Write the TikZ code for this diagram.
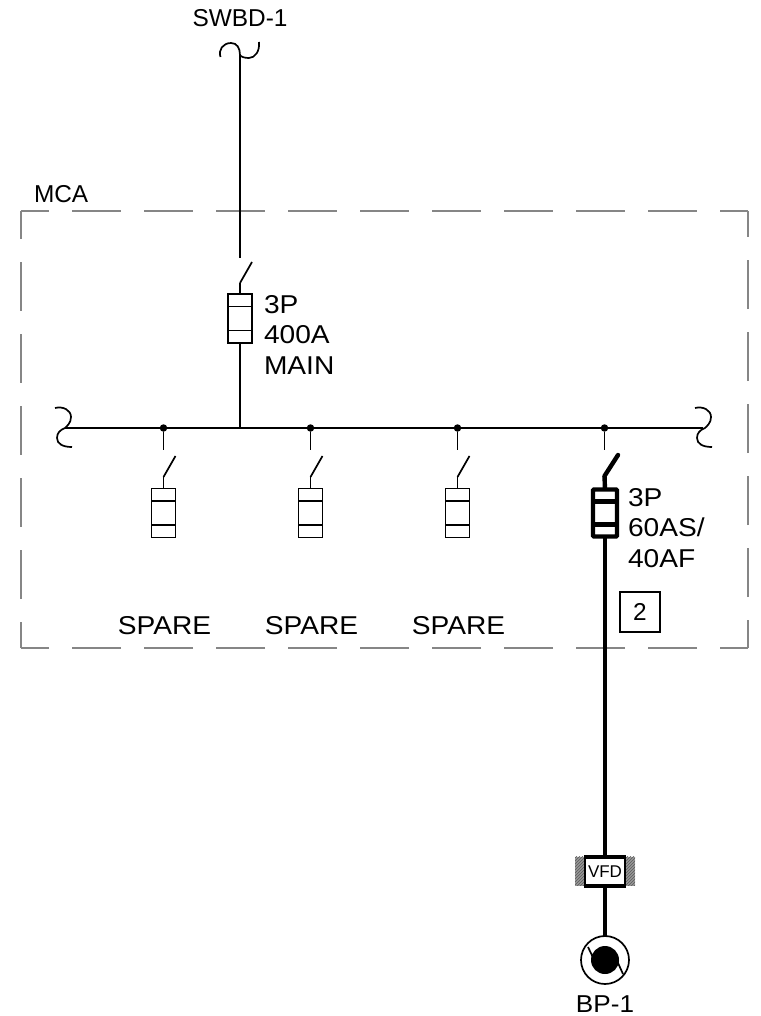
\documentclass[tikz,border=0pt]{standalone}
\usepackage{fontspec}
\setmainfont{Liberation Sans}
\usetikzlibrary{patterns}
\tikzstyle{edge}=[line width=1.7pt]
\tikzstyle{feeder}=[line width=4.4pt]
\tikzstyle{fuse}=[draw=black, shape=rectangle, line width=1.7pt, minimum width=24pt, minimum height=49pt, inner sep=0pt, outer sep=0pt]
\tikzstyle{fusebold}=[draw=black, shape=rectangle, line width=4.4pt, rounded corners=1pt, minimum width=24pt, minimum height=47pt, inner sep=0pt, outer sep=0pt]
\tikzstyle{tap}=[fill=black, shape=circle, inner sep=0pt, outer sep=0pt, minimum width=7.5pt]
\tikzstyle{mcaline}=[draw=gray!95, line width=2pt, dash pattern=on 49pt off 23pt, dash phase=21pt]
\tikzstyle{hatch}=[shape=rectangle, preaction={fill=gray!80}, pattern=north east lines, pattern color=gray!70!black, minimum width=10pt, minimum height=29pt, inner sep=0pt, outer sep=0pt]
\tikzstyle{label}=[inner sep=0pt, outer sep=0pt, font=\fontsize{24.4}{30.3}\selectfont, align=left]
\tikzstyle{wide}=[inner sep=0pt, outer sep=0pt, font=\fontsize{25.8}{30.3}\selectfont, align=left, xscale=1.09, transform shape]

\begin{document}
\begin{tikzpicture}[x=1pt, y=-1pt]
            \useasboundingbox (0,0) rectangle (760,1016);
            % enclosure
            \coordinate (tl) at (21,211);
            \coordinate (tr) at (748,211);
            \coordinate (bl) at (21,648);
            \coordinate (br) at (748,648);
            \draw[mcaline] (tl) -- (tr);
            \draw[mcaline] (tl) -- (bl);
            \draw[mcaline] (br) -- (bl);
            \draw[mcaline] (br) -- (tr);
            \node[label, anchor=west] (mca) at (34,194) {MCA};
            % incoming feed
            \node[label] (swbd) at (240,18) {SWBD-1};
            \coordinate (feed) at (240,55);
            \coordinate (mainopen) at (240,258);
            \coordinate (mainblade) at (252,262);
            \coordinate (mainhinge) at (240,283);
            \draw[edge] (220.5,57) .. controls (218,50) and (223,43) .. (231,43) .. controls (237,43) and (240,48) .. (feed) .. controls (241,57) and (245,58) .. (249,58) .. controls (255,58) and (260,51) .. (259,42);
            \draw[edge] (feed) -- (mainopen);
            \draw[edge] (mainblade) -- (mainhinge);
            \node[fuse] (main) at (240,318.5) {};
            \draw[edge] (mainhinge) -- (main.north);
            \node[wide, anchor=north west] (mainlabel) at (264,295.5) {3P\\400A\\MAIN};
            % bus
            \coordinate (busl) at (65,428);
            \coordinate (busr) at (703,428);
            \coordinate (busin) at (240,428);
            \draw[edge] (busl) -- (busr);
            \draw[edge] (main.south) -- (busin);
            \draw[edge] (55,408) .. controls (63,406) and (71,410) .. (71,417) .. controls (71,423) and (67,426) .. (busl) .. controls (60,430) and (57,433) .. (57,438) .. controls (57,444) and (63,447) .. (72,447);
            \draw[edge,shift={(640,0)}] (55,408) .. controls (63,406) and (71,410) .. (71,417) .. controls (71,423) and (67,426) .. (65,428) .. controls (60,430) and (57,433) .. (57,438) .. controls (57,444) and (63,447) .. (72,447);
            % spare breakers
            \foreach \n/\x in {1/163.5,2/310.5,3/457.5}{
                \node[tap] (tap\n) at (\x,428) {};
                \coordinate (open\n) at (\x,450);
                \coordinate (blade\n) at (\x+12,456);
                \coordinate (hinge\n) at (\x,477);
                \node[fuse] (spare\n) at (\x,513) {};
                \node[wide] (sparelabel\n) at (\x+1,626) {SPARE};
                \draw[edge] (tap\n) -- (open\n);
                \draw[edge] (blade\n) -- (hinge\n);
                \draw[edge] (hinge\n) -- (spare\n.north);
            }
            % fuse bars
            \foreach \f in {main,spare1,spare2,spare3}{
                \draw[edge] ([yshift=-12.5pt]\f.north west) -- ([yshift=-12.5pt]\f.north east);
                \draw[edge] ([yshift=12.5pt]\f.south west) -- ([yshift=12.5pt]\f.south east);
            }
            % pump branch
            \node[tap] (tap4) at (604.5,428) {};
            \coordinate (open4) at (604.5,450);
            \coordinate (blade4) at (618,455);
            \coordinate (hinge4) at (604.5,476);
            \node[fusebold] (pump) at (605,513) {};
            \draw[edge] (tap4) -- (open4);
            \draw[feeder,line cap=round] (blade4) -- (hinge4);
            \draw[feeder] (hinge4) -- (pump.north);
            \draw[feeder] ([yshift=-12pt]pump.north west) -- ([yshift=-12pt]pump.north east);
            \draw[feeder] ([yshift=12pt]pump.south west) -- ([yshift=12pt]pump.south east);
            \node[wide, anchor=north west] (pumplabel) at (628,488.5) {3P\\60AS/\\40AF};
            \node[draw=black, shape=rectangle, line width=2pt, minimum width=40pt, minimum height=40pt, inner sep=0pt, font=\fontsize{24.4}{30}\selectfont] (note) at (640,611.5) {2};
            % drive
            \node[hatch] (hatchl) at (580,871) {};
            \node[hatch] (hatchr) at (630,871) {};
            \node[draw=black, shape=rectangle, line width=1.7pt, fill=white, minimum width=40pt, minimum height=29pt, inner sep=0pt, outer sep=0pt, font=\fontsize{17}{18}\selectfont] (vfd) at (605,871.5) {VFD};
            \draw[feeder] ([xshift=-1pt]vfd.north west) -- ([xshift=1pt]vfd.north east);
            \draw[feeder] ([xshift=-1pt]vfd.south west) -- ([xshift=1pt]vfd.south east);
            \draw[feeder] (pump.south) -- (vfd.north);
            % motor
            \node[draw=black, shape=circle, line width=1.7pt, minimum width=48pt, inner sep=0pt, outer sep=0pt] (motor) at (605,960) {};
            \node[fill=black, shape=circle, minimum width=28pt, inner sep=0pt, outer sep=0pt] (rotor) at (605,960) {};
            \draw[feeder] (vfd.south) -- (motor.north);
            \coordinate (slashla) at (588,947);
            \coordinate (slashlb) at (598,968);
            \coordinate (slashra) at (613,952);
            \coordinate (slashrb) at (623,974);
            \draw[edge] (slashla) -- (slashlb);
            \draw[edge] (slashra) -- (slashrb);
            \node[label, xscale=1.07, transform shape] (bp) at (605,1004) {BP-1};
        \end{tikzpicture}
\end{document}
